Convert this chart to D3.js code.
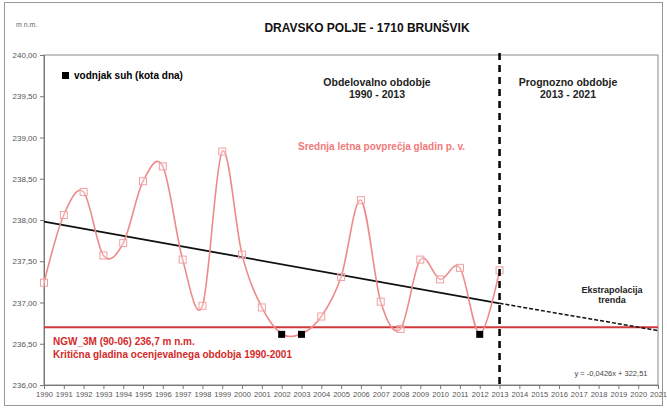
<!DOCTYPE html>
<html><head><meta charset="utf-8">
<script src="https://cdn.jsdelivr.net/npm/d3@7"></script>
<style>body{margin:0;background:#fff}svg{display:block;font-family:Arial,"Liberation Sans",sans-serif}</style>
</head><body><svg id="c" width="667" height="409"></svg>
<script>
const years = d3.range(1990, 2022).map(String);
const obsYears = ["1990","1991","1992","1993","1994","1995","1996","1997","1998","1999","2000","2001","2002","2003","2004","2005","2006","2007","2008","2009","2010","2011","2012","2013"];
const levels = [237.24,238.06,238.34,237.57,237.72,238.47,238.65,237.52,236.96,238.83,237.58,236.94,236.62,236.62,236.83,237.31,238.24,237.01,236.68,237.52,237.28,237.42,236.62,237.39];
const dryYears = ["2002","2003","2012"];
const dryLevels = [236.62,236.62,236.62];
const trendYears = ["1990","2013"];
const trendValues = [237.98,236.99];
const extrapYears = ["2013","2021"];
const extrapValues = [236.99,236.66];
const criticalLevel = 236.7;
const yTicks = [236,236.5,237,237.5,238,238.5,239,239.5,240];

const svg = d3.select("#c");
const L=44,R=658,T=55,B=385;
const x = d3.scalePoint().domain(years).range([L,R]);
const y = d3.scaleLinear().domain([236,240]).range([B,T]);

svg.append("rect").attr("x",4.5).attr("y",2.5).attr("width",658).attr("height",403).attr("fill","#fff").attr("stroke","#999");
svg.append("rect").attr("x",L).attr("y",T).attr("width",R-L).attr("height",B-T).attr("fill","none").attr("stroke","#888");

const fmt = v => d3.format(".2f")(v).replace(".",",");
const ya = svg.append("g").attr("transform",`translate(${L},0)`).call(d3.axisLeft(y).tickValues(yTicks).tickFormat(fmt).tickSize(4).tickPadding(3));
ya.select(".domain").attr("stroke","#777");
ya.selectAll("line").attr("stroke","#777");
ya.selectAll("text").attr("font-size",8).attr("fill","#555").attr("font-family","Arial,'Liberation Sans',sans-serif");
const xa = svg.append("g").attr("transform",`translate(0,${B})`).call(d3.axisBottom(x).tickSize(4).tickPadding(3));
xa.select(".domain").attr("stroke","#777");
xa.selectAll("line").attr("stroke","#777");
xa.selectAll("text").attr("font-size",7.6).attr("fill","#555").attr("font-family","Arial,'Liberation Sans',sans-serif");

// critical level
svg.append("line").attr("x1",L).attr("x2",R).attr("y1",y(criticalLevel)).attr("y2",y(criticalLevel)).attr("stroke","#d0393b").attr("stroke-width",2);

// trend
svg.append("path").datum(trendYears.map((d,i)=>[d,trendValues[i]]))
  .attr("d",d3.line().x(d=>x(d[0])).y(d=>y(d[1]))).attr("fill","none").attr("stroke","#111").attr("stroke-width",1.8);
svg.append("path").datum(extrapYears.map((d,i)=>[d,extrapValues[i]]))
  .attr("d",d3.line().x(d=>x(d[0])).y(d=>y(d[1]))).attr("fill","none").attr("stroke","#111").attr("stroke-width",1.5).attr("stroke-dasharray","4,2");

// curve
const pts = obsYears.map((d,i)=>[d,levels[i]]);
svg.append("path").datum(pts).attr("d",d3.line().x(d=>x(d[0])).y(d=>y(d[1])).curve(d3.curveCatmullRom.alpha(0)))
  .attr("fill","none").attr("stroke","#ee8a8a").attr("stroke-width",1.6);
svg.selectAll(".mk").data(pts.filter(d=>!dryYears.includes(d[0]))).enter().append("rect")
  .attr("x",d=>x(d[0])-3.5).attr("y",d=>y(d[1])-3.5).attr("width",7).attr("height",7)
  .attr("fill","#fff").attr("fill-opacity",0.3).attr("stroke","#f0a0a0").attr("stroke-width",1);
svg.selectAll(".dry").data(dryYears.map((d,i)=>[d,dryLevels[i]])).enter().append("rect")
  .attr("x",d=>x(d[0])-3.5).attr("y",d=>y(d[1])-3).attr("width",7).attr("height",7).attr("fill","#000");

// 2013 divider
svg.append("line").attr("x1",x("2013")).attr("x2",x("2013")).attr("y1",T-2).attr("y2",B)
  .attr("stroke","#000").attr("stroke-width",2.5).attr("stroke-dasharray","7,5");

// texts
const t=(tx,ty,s,o)=>{const e=svg.append("text").attr("x",tx).attr("y",ty).text(s);
  Object.entries(Object.assign({"font-size":10,"font-weight":"bold","fill":"#000"},o||{})).forEach(([k,v])=>e.attr(k,v));return e;};
t(16,27,"m n.m.",{"font-size":7,"font-weight":"normal","fill":"#666"});
t(367,32,"DRAVSKO POLJE - 1710 BRUNŠVIK",{"font-size":12,"text-anchor":"middle","fill":"#111"});
svg.append("rect").attr("x",62).attr("y",72).attr("width",7).attr("height",7).attr("fill","#000");
t(74,79,"vodnjak suh (kota dna)",{"font-size":10});
t(377,86,"Obdelovalno obdobje",{"font-size":10.5,"text-anchor":"middle","fill":"#222"});
t(377,98,"1990 - 2013",{"font-size":10.5,"text-anchor":"middle","fill":"#222"});
t(568,86,"Prognozno obdobje",{"font-size":10.5,"text-anchor":"middle","fill":"#222"});
t(568,98,"2013 - 2021",{"font-size":10.5,"text-anchor":"middle","fill":"#222"});
t(298,150,"Srednja letna povprečja gladin p. v.",{"font-size":10,"fill":"#f07a7a"});
t(53,345,"NGW_3M (90-06) 236,7 m n.m.",{"font-size":10,"fill":"#d42a2a"});
t(53,358,"Kritična gladina ocenjevalnega  obdobja 1990-2001",{"font-size":10,"fill":"#d42a2a"});
t(612,293,"Ekstrapolacija",{"font-size":9,"text-anchor":"middle","fill":"#222"});
t(612,303,"trenda",{"font-size":9,"text-anchor":"middle","fill":"#222"});
t(611,376,"y = -0,0426x + 322,51",{"font-size":7.5,"font-weight":"normal","text-anchor":"middle","fill":"#444"});
</script></body></html>
